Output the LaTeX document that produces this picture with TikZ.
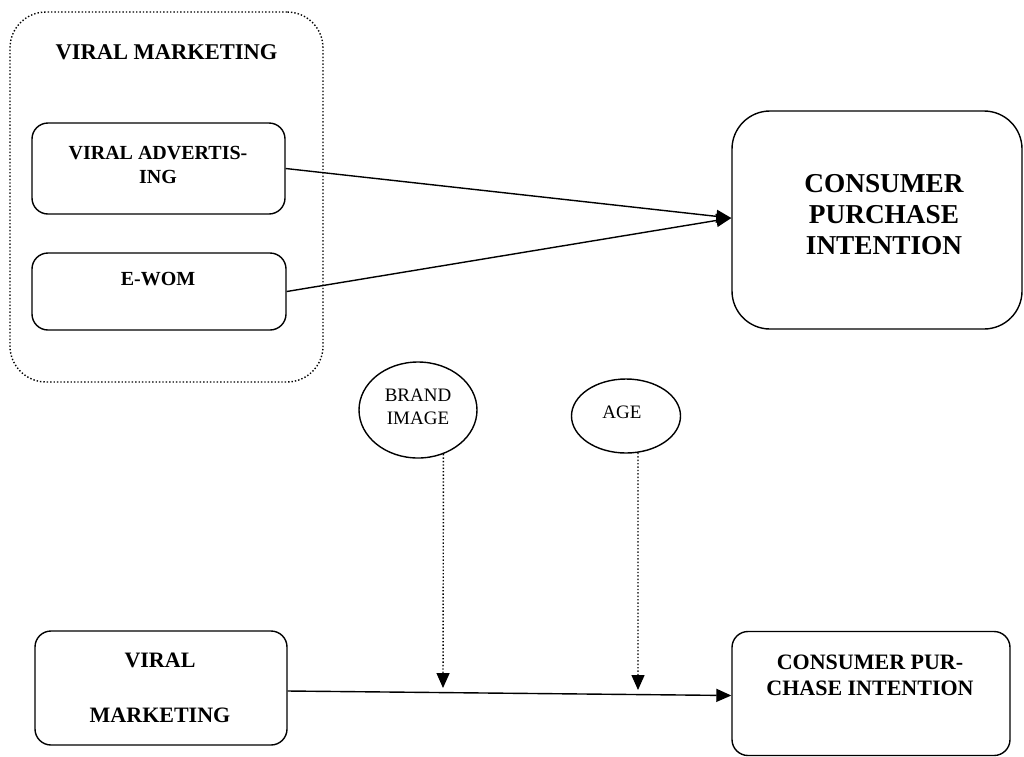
\documentclass[tikz,border=0pt]{standalone}
\usepackage{fontspec}
\setmainfont{Liberation Serif}
\usetikzlibrary{shapes.geometric,arrows.meta}
\begin{document}
\begin{tikzpicture}[x=1pt,y=-1pt,
  box/.style={draw,line width=1.4pt,rounded corners=16pt,inner sep=0pt},
  bigbox/.style={draw,line width=1.4pt,rounded corners=38pt,inner sep=0pt},
  group/.style={draw,line width=1.4pt,dotted,rounded corners=36pt,inner sep=0pt},
  oval/.style={draw,ellipse,line width=1.4pt,inner sep=0pt},
  lbl/.style={font=\bfseries\fontsize{20}{24}\selectfont,align=center,inner sep=0pt},
  conn/.style={line width=1.4pt,-{Triangle[length=15pt,width=13pt]}},
  dconn/.style={line width=1.4pt,dotted,-{Triangle[length=15pt,width=13pt]}}]
\useasboundingbox (0,0) rectangle (1024,756);
% group
\node[group,minimum width=313pt,minimum height=370pt] (grp) at (166.5,197) {};
\node[font=\bfseries\fontsize{22.5}{26}\selectfont,inner sep=0pt] (gt) at (166.5,52) {VIRAL MARKETING};
\node[box,minimum width=253pt,minimum height=91pt] (va) at (158.5,168.5) {};
\node[lbl] (vat) at (158,165) {VIRAL ADVERTIS-\\ING};
\node[box,minimum width=254pt,minimum height=77pt] (ew) at (159,291.5) {};
\node[lbl] (ewt) at (158,279) {E-WOM};
% consumer top
\node[bigbox,minimum width=290pt,minimum height=218pt] (cpi) at (877,220) {};
\node[font=\bfseries\fontsize{27.3}{31}\selectfont,align=center,inner sep=0pt] (cpit) at (884,215) {CONSUMER\\PURCHASE\\INTENTION};
\draw[conn] (va.east) -- ([yshift=2pt]cpi.west);
\draw[conn] (ew.east) -- ([yshift=2pt]cpi.west);
% moderators
\node[oval,minimum width=118pt,minimum height=96pt] (bi) at (418,410) {};
\node[align=center,inner sep=0pt,font=\fontsize{19}{23}\selectfont] (bit) at (418,407) {BRAND\\IMAGE};
\node[oval,minimum width=109pt,minimum height=74pt] (ag) at (626,416) {};
\node[inner sep=0pt,font=\fontsize{19}{23}\selectfont] (agt) at (622,412) {AGE};
% bottom
\node[box,minimum width=252pt,minimum height=114pt] (vm) at (161,688) {};
\node[lbl,font=\bfseries\fontsize{22}{54.5}\selectfont] (vmt) at (160,688) {VIRAL\\MARKETING};
\node[box,minimum width=278pt,minimum height=124pt] (cp2) at (871,693.5) {};
\node[lbl,font=\bfseries\fontsize{22}{26}\selectfont] (cp2t) at (870,675) {CONSUMER PUR-\\CHASE INTENTION};
\coordinate (m1) at (443,688);
\coordinate (m2) at (638,690);
\draw[conn] ([yshift=-3pt]vm.east) -- ([yshift=-2pt]cp2.west);
\draw[dconn] (bi.-60) -- (m1);
\draw[dconn] (ag.-72) -- (m2);
\end{tikzpicture}
\end{document}
